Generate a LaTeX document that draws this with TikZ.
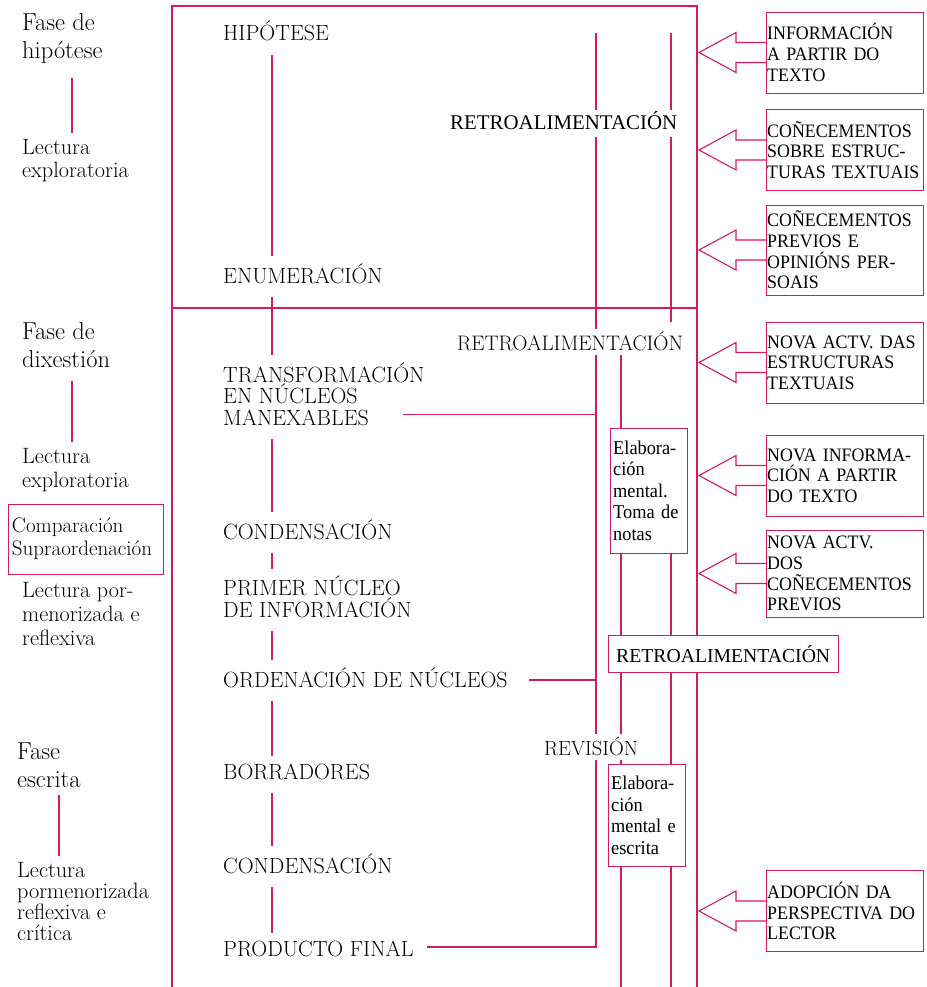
\documentclass[tikz,border=0pt]{standalone}
\usepackage{fontspec}
\newfontfamily\boxfont[FakeStretch=0.94]{Liberation Serif}
\newfontfamily\retrofont{Liberation Serif}
\definecolor{linkred}{RGB}{214,28,84}

\begin{document}
\begin{tikzpicture}[x=1pt, y=-1pt,
    every node/.style={inner sep=0pt},
    link/.style={draw=linkred, line width=1.1pt},
    spine/.style={link, shorten <=13pt, shorten >=7pt},
    tick/.style={link, shorten >=6pt},
    phase/.style={anchor=base west, align=left, font=\fontsize{24.5}{28}\selectfont},
    reading/.style={anchor=base west, align=left, font=\fontsize{22.2}{23.5}\selectfont},
    stage/.style={anchor=base west, align=left, font=\fontsize{22}{21.5}\selectfont},
    gaplabel/.style={anchor=base west, inner ysep=2pt, text depth=3pt},
    notebox/.style={draw=linkred, anchor=north west, align=left, text width=71pt, inner xsep=3pt, font=\boxfont\fontsize{19.5}{21.5}\selectfont},
    source/.style={draw=linkred, anchor=west, align=left, text width=155pt, inner xsep=1pt, inner ysep=6pt, minimum height=81pt, font=\boxfont\fontsize{19}{20.7}\selectfont}
    ]
    \useasboundingbox (0,0) rectangle (926,987);

    \coordinate (frameNW) at (172,6);
    \coordinate (frameNE) at (697,6);
    \coordinate (divider) at (172,308);
    \coordinate (topend) at (0,33);
    \coordinate (bottomend) at (0,987);
    \coordinate (spinex) at (272,0);
    \coordinate (colA) at (596,0);
    \coordinate (colB) at (621,0);
    \coordinate (colC) at (671,0);
    \coordinate (tickA) at (72,0);
    \coordinate (tickB) at (59,0);

    % left column (base = last line)
    \node[phase] (phase1) at (22,59) {Fase de\\hipótese};
    \node[reading] (read1) at (22,178) {Lectura\\exploratoria};
    \node[phase] (phase2) at (22,367) {Fase de\\dixestión};
    \node[reading] (read2) at (22,487) {Lectura\\exploratoria};
    \node[draw=linkred, align=left, text width=147pt, inner xsep=4pt, minimum height=70pt,
          font=\fontsize{21}{23}\selectfont] (compare) at (85.5,539) {Comparación\\Supraordenación};
    \node[reading, font=\fontsize{22.2}{24}\selectfont] (read3) at (22,645) {Lectura por-\\menorizada e\\reflexiva};
    \node[phase] (phase3) at (17,787) {Fase\\escrita};
    \node[reading, font=\fontsize{22.2}{21}\selectfont] (read4) at (17,940) {Lectura\\pormenorizada\\reflexiva e\\crítica};

    \draw[tick, shorten <=14pt] (phase1.south -| tickA) -- (read1.north -| tickA);
    \draw[tick, shorten <=14pt] (phase2.south -| tickA) -- (read2.north -| tickA);
    \draw[tick, shorten <=8pt] (phase3.south -| tickB) -- (read4.north -| tickB);

    % stages
    \node[stage] (hip) at (223,41) {HIPÓTESE};
    \node[stage] (enum) at (223,283) {ENUMERACIÓN};
    \node[stage] (transf) at (223,425) {TRANSFORMACIÓN\\EN NÚCLEOS\\MANEXABLES};
    \node[stage] (cond1) at (223,539) {CONDENSACIÓN};
    \node[stage] (primer) at (223,617) {PRIMER NÚCLEO\\DE INFORMACIÓN};
    \node[stage] (orden) at (223,687) {ORDENACIÓN DE NÚCLEOS};
    \node[stage] (borr) at (223,779) {BORRADORES};
    \node[stage] (cond2) at (223,873) {CONDENSACIÓN};
    \node[stage] (prod) at (223,956) {PRODUCTO FINAL};

    \foreach \a/\b in {hip/enum, enum/transf, transf/cond1, cond1/primer, primer/orden, orden/borr, borr/cond2, cond2/prod}
        \draw[spine] (\a.south -| spinex) -- (\b.north -| spinex);

    % feedback labels and boxes
    \node[gaplabel, text depth=5pt, font=\retrofont\fontsize{20.9}{22}\selectfont] (retro1) at (450,130) {RETROALIMENTACIÓN};
    \node[gaplabel, font=\fontsize{21}{21}\selectfont] (retro2) at (457,350) {RETROALIMENTACIÓN};
    \node[gaplabel, font=\fontsize{20.5}{21}\selectfont] (revision) at (544,755) {REVISIÓN};
    \node[notebox, minimum height=125pt] (elab1) at (610,428) {Elabora-\\ción\\mental.\\Toma de\\notas};
    \node[notebox, minimum height=102pt] (elab2) at (608,764) {Elabora-\\ción\\mental e\\escrita};
    \node[draw=linkred, anchor=north west, minimum width=230pt, minimum height=37pt,
          font=\retrofont\fontsize{19.7}{21}\selectfont] (retrobox) at (608,635) {RETROALIMENTACIÓN};

    % frame
    \draw[link] (frameNW |- bottomend) -- (frameNW) -- (frameNE) -- (frameNE |- retrobox.north);
    \draw[link] (frameNE |- retrobox.south) -- (frameNE |- bottomend);
    \draw[link] (divider) -- (divider -| frameNE);

    \coordinate (cstop) at ([yshift=7pt]retro2.north);
    \coordinate (tjoin) at ([xshift=-22pt,yshift=11pt]transf.south east);
    \coordinate (ojoin) at ([shift={(21pt,7pt)}]orden.base east);

    \draw[link] (colA |- topend) -- (colA |- retro1.north);
    \draw[link] (colA |- retro1.south) -- (colA |- retro2.north);
    \draw[link] (colA |- retro2.south) -- (colA |- revision.north);
    \draw[link] (colA |- revision.south) |- ([shift={(13pt,9pt)}]prod.base east);
    \draw[link] (tjoin) -- (tjoin -| colA);
    \draw[link] (ojoin) -- (ojoin -| colA);

    \draw[link] (colB |- retro2.south) -- (colB |- elab1.north);
    \draw[link] (colB |- elab1.south) -- (colB |- retrobox.north);
    \draw[link] (colB |- retrobox.south) -- (colB |- revision.north);
    \draw[link] (colB |- revision.south) -- (colB |- elab2.north);
    \draw[link] (colB |- elab2.south) -- (colB |- bottomend);

    \draw[link] (colC |- topend) -- (colC |- retro1.north);
    \draw[link] (colC |- retro1.south) -- (colC |- cstop);
    \draw[link] (colC |- elab1.south) -- (colC |- retrobox.north);
    \draw[link] (colC |- retrobox.south) -- (colC |- elab2.north);
    \draw[link] (colC |- elab2.south) -- (colC |- bottomend);

    % sources
    \node[source] (src1) at (766,52.5) {INFORMACIÓN\\A PARTIR DO\\TEXTO};
    \node[source] (src2) at (766,150) {COÑECEMENTOS\\SOBRE ESTRUC-\\TURAS TEXTUAIS};
    \node[source] (src3) at (766,250) {COÑECEMENTOS\\PREVIOS E\\OPINIÓNS PER-\\SOAIS};
    \node[source] (src4) at (766,362.5) {NOVA ACTV. DAS\\ESTRUCTURAS\\TEXTUAIS};
    \node[source] (src5) at (766,475.5) {NOVA INFORMA-\\CIÓN A PARTIR\\DO TEXTO};
    \node[source] (src6) at (766,573.5) {NOVA ACTV.\\DOS\\COÑECEMENTOS\\PREVIOS};
    \node[source] (src7) at (766,911) {ADOPCIÓN DA\\PERSPECTIVA DO\\LECTOR};

    \foreach \src in {src1,src2,src3,src4,src5,src6,src7}
        \draw[link] ([yshift=-10pt]\src.west) -- ++(-30,0) -- ++(0,10) -- ++(-37,-20) -- ++(37,-20) -- ++(0,10) -- ++(30,0);
\end{tikzpicture}
\end{document}
